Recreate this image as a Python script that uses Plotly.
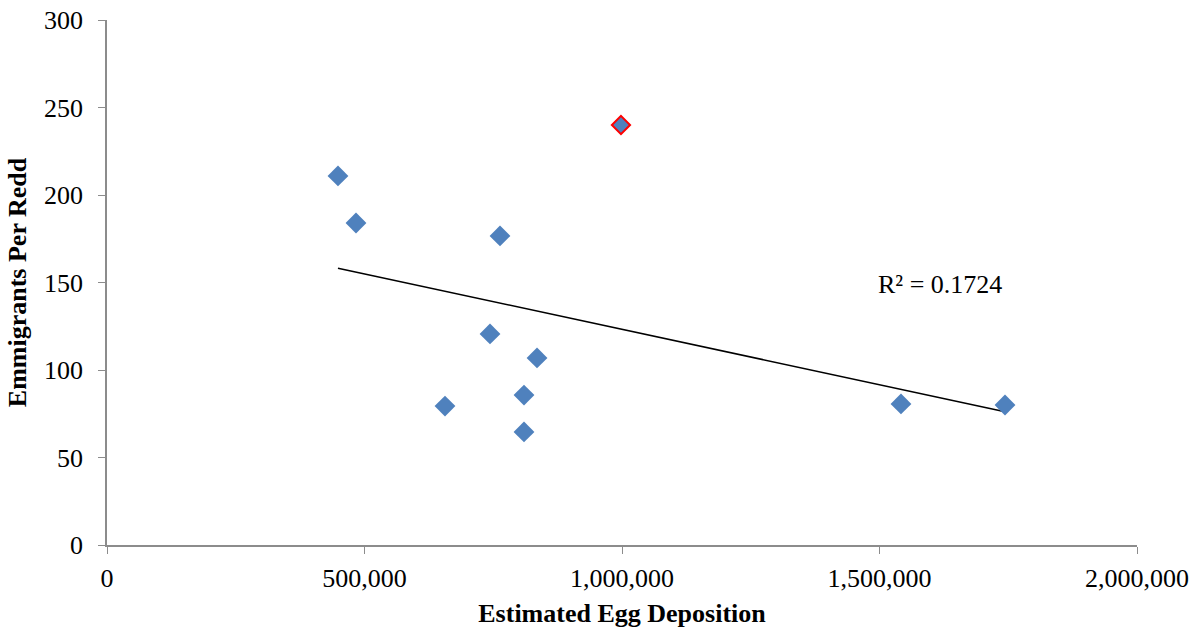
import plotly.graph_objects as go
import numpy as np

# estimated egg deposition vs emmigrants per redd
egg_deposition = [448500, 483500, 656300, 743700, 763100, 809700, 809700, 835000, 1541700, 1743700]
emmigrants = [210.9, 184.0, 79.4, 120.6, 176.6, 85.7, 64.6, 106.9, 80.6, 80.0]

# highlighted year (red outline)
hl_egg = [998000]
hl_emm = [240.0]

x_ticks = [0, 500000, 1000000, 1500000, 2000000]
x_tick_text = ["0", "500,000", "1,000,000", "1,500,000", "2,000,000"]
y_ticks = [0, 50, 100, 150, 200, 250, 300]
r2_text = "R² = 0.1724"

# linear trendline through all points
all_x = np.array(egg_deposition + hl_egg)
all_y = np.array(emmigrants + hl_emm)
slope, intercept = np.polyfit(all_x, all_y, 1)
tx = np.array([all_x.min(), all_x.max()])
ty = slope * tx + intercept

blue = "#4F81BD"
font = "Liberation Serif, Times New Roman, serif"

fig = go.Figure()
fig.add_trace(go.Scatter(
    x=tx, y=ty, mode="lines",
    line=dict(color="black", width=1.5),
    hoverinfo="skip"
))
fig.add_trace(go.Scatter(
    x=egg_deposition, y=emmigrants, mode="markers",
    marker=dict(symbol="diamond", size=16, color=blue, line=dict(width=0))
))
fig.add_trace(go.Scatter(
    x=hl_egg, y=hl_emm, mode="markers",
    marker=dict(symbol="diamond", size=14, color=blue, line=dict(color="red", width=2))
))

fig.add_annotation(
    x=1617000, y=148.6, text=r2_text, showarrow=False,
    font=dict(family=font, size=26, color="black")
)

fig.update_layout(
    width=1198, height=630,
    margin=dict(l=107, r=61, t=20, b=85),
    plot_bgcolor="white", paper_bgcolor="white",
    showlegend=False,
    font=dict(family=font, size=26, color="black"),
)
fig.update_xaxes(
    range=[0, 2000000], tickvals=x_ticks, ticktext=x_tick_text,
    showgrid=False, zeroline=False, automargin=False,
    showline=True, linecolor="#8c8c8c", linewidth=1.5,
    ticks="outside", tickcolor="#8c8c8c", ticklen=7, ticklabelstandoff=2,
    ticklabeloverflow="allow",
    title=dict(text="<b>Estimated Egg Deposition</b>", font=dict(size=26), standoff=12),
)
fig.update_yaxes(
    range=[0, 300], tickvals=y_ticks,
    showgrid=False, zeroline=False, automargin=False,
    showline=True, linecolor="#8c8c8c", linewidth=1.5,
    ticks="outside", tickcolor="#8c8c8c", ticklen=7, ticklabelstandoff=10,
    ticklabeloverflow="allow",
    title=dict(text="<b>Emmigrants Per Redd</b>", font=dict(size=26), standoff=10),
)

# drop the default body margin so the figure fills the window exactly
fig.write_html("out.html", config={"displayModeBar": False},
               post_script="document.body.style.margin='0';")
